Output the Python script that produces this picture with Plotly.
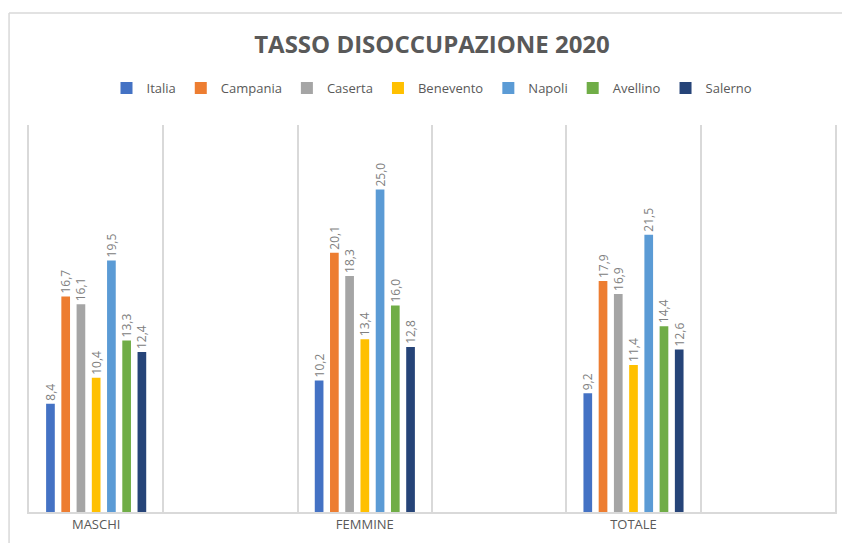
import plotly.graph_objects as go

# Unemployment rate 2020 by gender group and territory
categories = ["MASCHI", "FEMMINE", "TOTALE"]
series = ["Italia", "Campania", "Caserta", "Benevento", "Napoli", "Avellino", "Salerno"]
values = {
    "Italia":    [8.4, 10.2, 9.2],
    "Campania":  [16.7, 20.1, 17.9],
    "Caserta":   [16.1, 18.3, 16.9],
    "Benevento": [10.4, 13.4, 11.4],
    "Napoli":    [19.5, 25.0, 21.5],
    "Avellino":  [13.3, 16.0, 14.4],
    "Salerno":   [12.4, 12.8, 12.6],
}
colors = {
    "Italia": "#4472C4",
    "Campania": "#ED7D31",
    "Caserta": "#A5A5A5",
    "Benevento": "#FFC000",
    "Napoli": "#5B9BD5",
    "Avellino": "#70AD47",
    "Salerno": "#264478",
}

# each category is followed by an empty slot on the axis
slot_order = []
for i, c in enumerate(categories):
    slot_order += [c, " " * (i + 1)]

fig = go.Figure()
for name in series:
    fig.add_trace(go.Bar(
        name=name,
        x=categories,
        y=values[name],
        marker=dict(color=colors[name], line=dict(width=0)),
        texttemplate="%{y:.1f}",
        textposition="outside",
        textangle=-90,
        constraintext="none",
        cliponaxis=False,
        textfont=dict(family="Open Sans", size=12, color="#808080"),
        hoverinfo="skip",
    ))

grid = "#d9d9d9"
fig.update_layout(
    width=842,
    height=543,
    margin=dict(l=29, r=5, t=125, b=31),
    paper_bgcolor="white",
    plot_bgcolor="white",
    separators=", ",
    barmode="group",
    bargap=0.206,
    bargroupgap=0.43,
    title=dict(
        text="<b>TASSO DISOCCUPAZIONE 2020</b>",
        x=0.5, xref="paper", xanchor="center",
        y=1.0 - 45 / 543, yref="container", yanchor="middle",
        font=dict(family="Open Sans", size=24, color="#595959"),
    ),
    legend=dict(
        orientation="h",
        x=0.5, xanchor="center",
        y=(512 - 88) / 387, yanchor="middle",
        font=dict(family="Open Sans", size=13, color="#595959"),
        itemwidth=30,
        traceorder="normal",
    ),
    xaxis=dict(
        type="category",
        categoryorder="array",
        categoryarray=slot_order,
        range=[-0.5, len(slot_order) - 0.5],
        tickson="boundaries",
        tickfont=dict(family="Open Sans", size=13, color="#595959"),
        ticks="",
        showgrid=True,
        gridcolor=grid,
        gridwidth=1.5,
        zeroline=False,
        showline=True,
        linecolor=grid,
        linewidth=1.5,
    ),
    yaxis=dict(
        range=[0, 30],
        showgrid=False,
        zeroline=False,
        showticklabels=False,
        showline=True,
        mirror=True,
        linecolor=grid,
        linewidth=1.5,
    ),
    shapes=[
        dict(type="line", xref="paper", yref="paper",
             x0=(9 - 29) / 808, x1=(9 - 29) / 808,
             y0=-0.2, y1=(512 - 13) / 387,
             line=dict(color=grid, width=1.5)),
        dict(type="line", xref="paper", yref="paper",
             x0=(9 - 29) / 808, x1=1.1,
             y0=(512 - 13) / 387, y1=(512 - 13) / 387,
             line=dict(color=grid, width=1.5)),
    ],
)

fig.write_html("out.html")
